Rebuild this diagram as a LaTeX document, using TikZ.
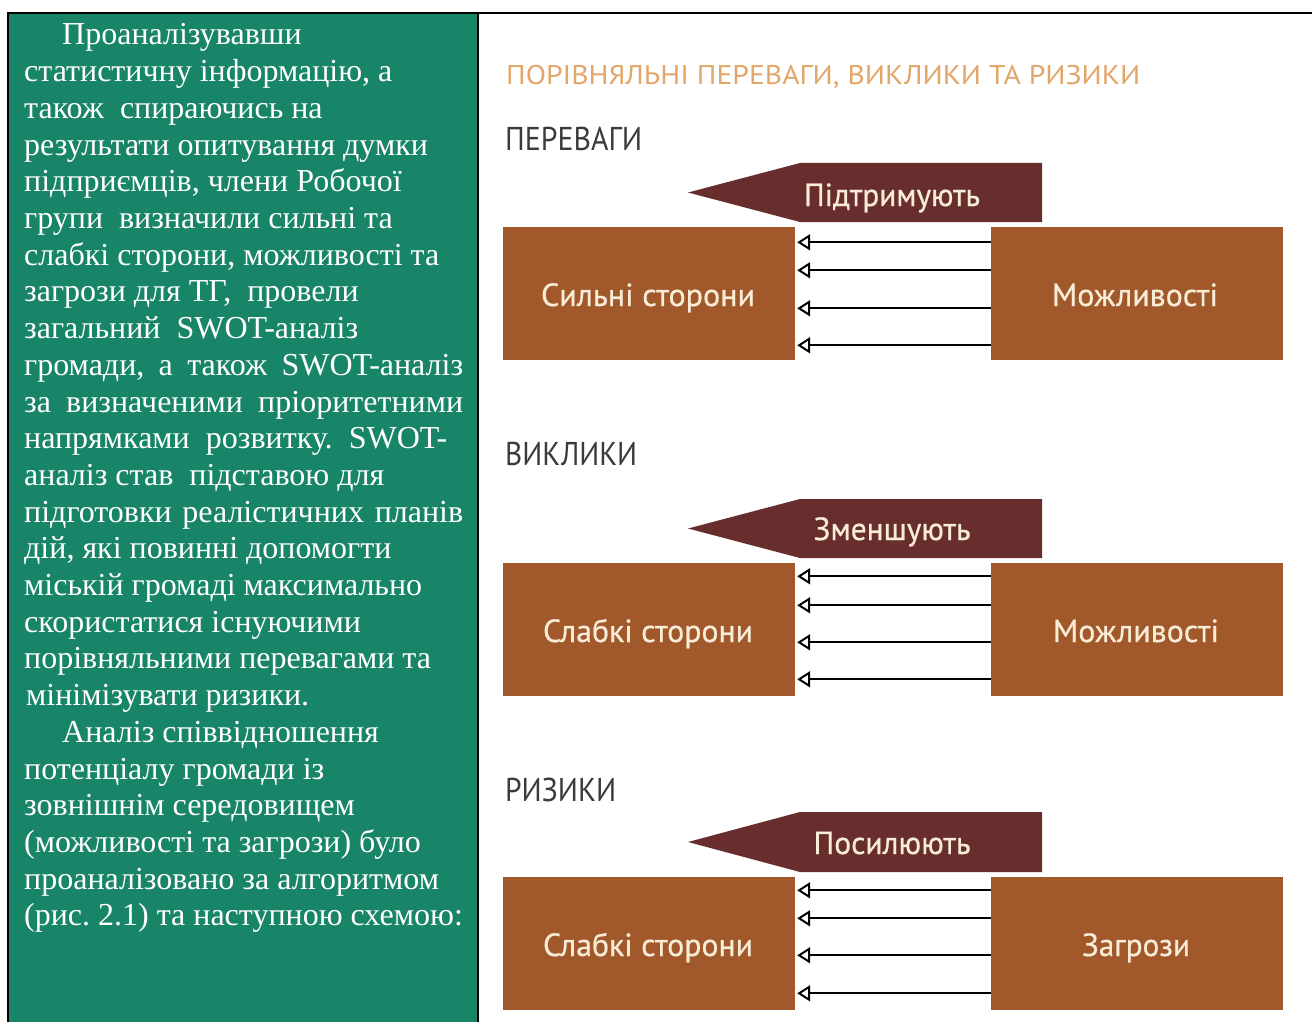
\documentclass[tikz,border=0pt]{standalone}
\usepackage{fontspec}
\usepackage{graphicx}
\usetikzlibrary{arrows.meta}
\newfontfamily\tnr{Liberation Serif}
\newfontfamily\dsans{PT Sans}
\newfontfamily\dsansm[FakeBold=0.6]{PT Sans}
\newcommand\fitw[2]{\resizebox{#1}{\height}{#2}}
\definecolor{panelgreen}{RGB}{24,132,104}
\definecolor{boxbrown}{RGB}{161,88,42}
\definecolor{bannerred}{RGB}{104,46,46}
\definecolor{cream}{RGB}{248,236,214}
\definecolor{headgray}{RGB}{62,58,58}
\definecolor{titletan}{RGB}{226,166,104}
\tikzset{
  lt/.style={anchor=base west, inner sep=0pt, text=white, font=\tnr\frenchspacing\fontsize{32}{36}\selectfont},
  ttl/.style={anchor=base west, inner sep=0pt, text=titletan, font=\dsans\fontsize{27}{30}\selectfont},
  hd/.style={anchor=base west, inner sep=0pt, text=headgray, font=\dsans\fontsize{33}{36}\selectfont},
  lbl/.style={anchor=base, inner sep=0pt, text=cream, font=\dsansm\fontsize{32}{36}\selectfont},
  sbox/.style={fill=boxbrown, minimum width=292pt, minimum height=133pt, inner sep=0pt},
  banner/.style={fill=bannerred},
  arr/.style={line width=2pt, -{Triangle[open, length=13pt, width=16pt, line width=2pt]}}
}
\begin{document}
\begin{tikzpicture}[x=1pt,y=-1pt]
\useasboundingbox (0,0) rectangle (1312,1022);
\fill[white] (0,0) rectangle (1312,1022);
% left panel
\fill[panelgreen] (8,13) rectangle (478,1022);
\draw[line width=1.2pt] (8,13) -- (8,1022);
\draw[line width=1.5pt] (478,13) -- (478,1022);
\draw[line width=2pt] (7,13) -- (1312,13);
% left text
\node[lt] (t1)  at (62,45)    {Проаналізувавши};
\node[lt] (t2)  at (24,81.7)  {статистичну інформацію, а};
\node[lt] (t3)  at (24,118.4) {також\ \ спираючись на};
\node[lt] (t4)  at (24,155.1) {результати опитування думки};
\node[lt] (t5)  at (24,191.8) {підприємців, члени Робочої};
\node[lt] (t6)  at (24,228.5) {групи\ \ визначили сильні та};
\node[lt] (t7)  at (24,265.2) {слабкі сторони, можливості та};
\node[lt] (t8)  at (24,301.9) {загрози для ТГ,\ \ провели};
\node[lt] (t9)  at (24,338.6) {загальний\ \ SWOT-аналіз};
\node[lt] (t10) at (24,375.3) {\makebox[439pt][s]{громади, а також SWOT-аналіз}};
\node[lt] (t11) at (24,412)   {\makebox[439pt][s]{за визначеними пріоритетними}};
\node[lt] (t12) at (24,448.7) {\makebox[423pt][s]{напрямками розвитку. SWOT-}};
\node[lt] (t13) at (24,485.4) {аналіз став\ \ підставою для};
\node[lt] (t14) at (24,522.1) {\makebox[439pt][s]{підготовки реалістичних планів}};
\node[lt] (t15) at (24,558.8) {дій, які повинні допомогти};
\node[lt] (t16) at (24,595.5) {міській громаді максимально};
\node[lt] (t17) at (24,632.2) {скористатися існуючими};
\node[lt] (t18) at (24,668.9) {порівняльними перевагами та};
\node[lt] (t19) at (26,705.6) {мінімізувати ризики.};
\node[lt] (t20) at (62,742.3) {Аналіз співвідношення};
\node[lt] (t21) at (24,779)   {потенціалу громади із};
\node[lt] (t22) at (24,815.7) {зовнішнім середовищем};
\node[lt] (t23) at (24,852.4) {(можливості та загрози) було};
\node[lt] (t24) at (24,889.1) {проаналізовано за алгоритмом};
\node[lt] (t25) at (24,925.8) {(рис. 2.1) та наступною схемою:};
% title and headings
\node[ttl] (title) at (506,85) {\fitw{634pt}{ПОРІВНЯЛЬНІ ПЕРЕВАГИ, ВИКЛИКИ ТА РИЗИКИ}};
\node[hd] (h1) at (505,150) {\fitw{137pt}{ПЕРЕВАГИ}};
\node[hd] (h2) at (505,465) {\fitw{132pt}{ВИКЛИКИ}};
\node[hd] (h3) at (505,801) {\fitw{111pt}{РИЗИКИ}};
% section 1
\fill[banner] (688,192.5) -- (800,163) -- (1042,163) -- (1042,222) -- (800,222) -- cycle;
\node[lbl] (b1) at (892,206) {\fitw{176pt}{Підтримують}};
\node[sbox] (L1) at (649,293) {};
\node[sbox] (R1) at (1137,293) {};
\node[lbl] (l1) at (648,306) {\fitw{214pt}{Сильні сторони}};
\node[lbl] (r1) at (1135,306) {\fitw{166pt}{Можливості}};
\foreach \d in {16,44,82,119}{
  \draw[arr] ([yshift=-\d pt]R1.north west) -- ([yshift=-\d pt, xshift=2pt]L1.north east);
}
% section 2
\fill[banner] (688,528.5) -- (800,499) -- (1042,499) -- (1042,558) -- (800,558) -- cycle;
\node[lbl] (b2) at (892,540) {\fitw{157pt}{Зменшують}};
\node[sbox] (L2) at (649,629) {};
\node[sbox] (R2) at (1137,629) {};
\node[lbl] (l2) at (648,642) {\fitw{210pt}{Слабкі сторони}};
\node[lbl] (r2) at (1136,642) {\fitw{166pt}{Можливості}};
\foreach \d in {14,43,80,117}{
  \draw[arr] ([yshift=-\d pt]R2.north west) -- ([yshift=-\d pt, xshift=2pt]L2.north east);
}
% section 3
\fill[banner] (688,842) -- (800,812) -- (1042,812) -- (1042,872) -- (800,872) -- cycle;
\node[lbl] (b3) at (892,854) {\fitw{157pt}{Посилюють}};
\node[sbox] (L3) at (649,943) {};
\node[sbox] (R3) at (1137,943) {};
\node[lbl] (l3) at (648,956) {\fitw{210pt}{Слабкі сторони}};
\node[lbl] (r3) at (1136,956) {\fitw{108pt}{Загрози}};
\foreach \d in {14,42,79,117}{
  \draw[arr] ([yshift=-\d pt]R3.north west) -- ([yshift=-\d pt, xshift=2pt]L3.north east);
}
\end{tikzpicture}
\end{document}
